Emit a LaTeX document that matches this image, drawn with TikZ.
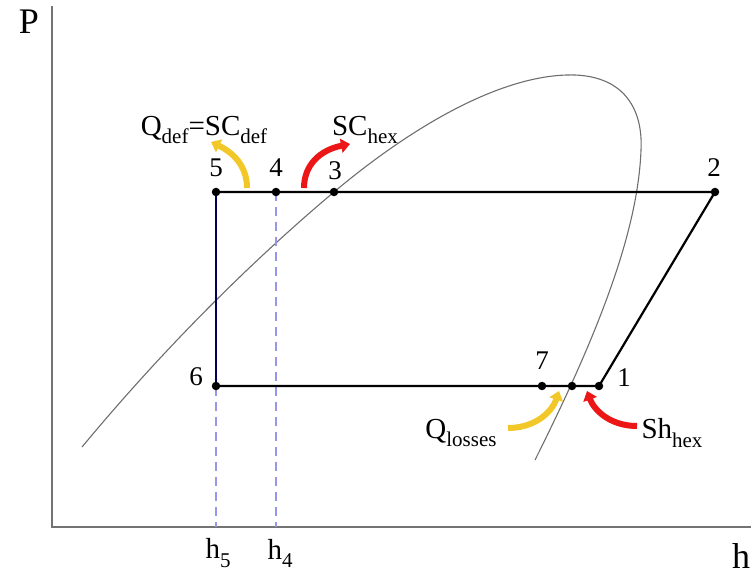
\documentclass[tikz,border=0pt]{standalone}
\usepackage{fontspec}
\setmainfont{Liberation Serif}
\usetikzlibrary{arrows.meta}
\definecolor{yel}{RGB}{242,200,40}
\definecolor{rd}{RGB}{236,22,22}
\definecolor{dashblue}{RGB}{150,150,235}
\definecolor{dome}{RGB}{110,110,110}
\newcommand{\lsub}[1]{\raisebox{-0.28em}{\fontsize{21}{21}\selectfont #1}}
\tikzset{
  dot/.style={circle,fill=black,inner sep=0pt,minimum size=8.5pt},
  num/.style={font=\fontsize{27}{28}\selectfont,inner sep=1pt},
  lbl/.style={font=\fontsize{29}{30}\selectfont,inner sep=1pt},
  cyc/.style={line width=2.2pt,black},
  vdash/.style={dashblue,line width=1.4pt,dash pattern=on 9pt off 6pt},
  bigarrow/.style={line width=6pt,-{Triangle[length=9pt,width=14pt]}},
  axis/.style={line width=1.3pt,black!55}
}
\begin{document}
\begin{tikzpicture}[x=1pt,y=-1pt]
\useasboundingbox (0,0) rectangle (751,577);
% axes
\coordinate (ytop) at (52,6);
\coordinate (orig) at (52,527);
\coordinate (xend) at (751,527);
\draw[axis] (ytop) -- (orig) -- (xend);
\node[font=\fontsize{36}{38}\selectfont] (P) at (29,22) {P};
\node[font=\fontsize{36}{38}\selectfont] (h) at (741,556) {h};
% dome
\coordinate (d0) at (82,447);
\coordinate (d1) at (334,192);
\coordinate (d2) at (575,75);
\coordinate (d3) at (641,150);
\coordinate (d4) at (535,460);
\draw[dome,line width=1.1pt] (d0) .. controls (175,335) and (265,250) .. (d1)
  .. controls (415,124) and (505,73) .. (d2)
  .. controls (625,77) and (643,110) .. (d3)
  .. controls (638,230) and (600,330) .. (d4);
% points
\coordinate (p5) at (216,192);
\coordinate (p4) at (276,192);
\coordinate (p3) at (334,192);
\coordinate (p2) at (715,192);
\coordinate (p6) at (216,386);
\coordinate (p7) at (542,386);
\coordinate (pm) at (572,386);
\coordinate (p1) at (599,386);
\coordinate (b5) at (216,527);
\coordinate (b4) at (276,527);
% dashed
\draw[vdash] (p5) -- (b5);
\draw[vdash] (p4) -- (b4);
% cycle
\draw[cyc] (p5) -- (p2) -- (p1) -- (p6);
\draw[line width=2.2pt,black!65!blue] (p5) -- (p6);
\foreach \p in {p5,p4,p3,p2,p6,p7,pm,p1} \node[dot] at (\p) {};
% numbers
\node[num] (n5) at (216,168) {5};
\node[num] (n4) at (276,168) {4};
\node[num] (n3) at (335,171) {3};
\node[num] (n2) at (714,168) {2};
\node[num] (n6) at (196,377) {6};
\node[num] (n7) at (542,361) {7};
\node[num] (n1) at (624,378) {1};
\node[lbl] (h5) at (218,553) {h\lsub{5}};
\node[lbl] (h4) at (280,553) {h\lsub{4}};
% labels
\node[lbl] (qdef) at (204,130) {Q\lsub{def}=SC\lsub{def}};
\node[lbl] (schex) at (365,130) {SC\lsub{hex}};
\node[lbl] (qloss) at (461,433) {Q\lsub{losses}};
\node[lbl] (shhex) at (672,433) {Sh\lsub{hex}};
% arrows
\coordinate (ya1) at (247,188);
\coordinate (ya2) at (211,142);
\draw[bigarrow,yel] (ya1) .. controls (247,165) and (232,152) .. (ya2);
\coordinate (ra1) at (304,188);
\coordinate (ra2) at (350,144);
\draw[bigarrow,rd] (ra1) .. controls (304,165) and (320,150) .. (ra2);
\coordinate (yb1) at (508,428);
\coordinate (yb2) at (559,391);
\draw[bigarrow,yel] (yb1) .. controls (535,428) and (552,412) .. (yb2);
\coordinate (rb1) at (637,426);
\coordinate (rb2) at (587,391);
\draw[bigarrow,rd] (rb1) .. controls (610,426) and (594,410) .. (rb2);
\end{tikzpicture}
\end{document}
